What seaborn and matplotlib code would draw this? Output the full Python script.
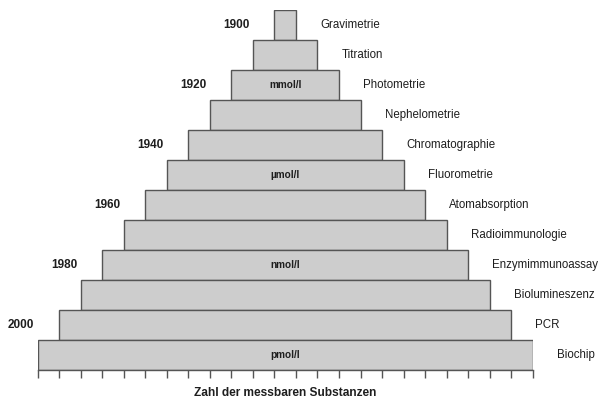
import matplotlib
matplotlib.use('Agg')
import matplotlib.pyplot as plt
import seaborn as sns
import pandas as pd

# Data
methods = ['Gravimetrie', 'Titration', 'Photometrie', 'Nephelometrie', 'Chromatographie',
           'Fluorometrie', 'Atomabsorption', 'Radioimmunologie', 'Enzymimmunoassay',
           'Biolumineszenz', 'PCR', 'Biochip']
breite = [1, 3, 5, 7, 9, 11, 13, 15, 17, 19, 21, 23]
jahre = ['1900', '1920', '1940', '1960', '1980', '2000']
jahr_zeilen = ['Gravimetrie', 'Photometrie', 'Chromatographie', 'Atomabsorption',
               'Enzymimmunoassay', 'PCR']
einheiten = ['mmol/l', 'µmol/l', 'nmol/l', 'pmol/l']
einheit_zeilen = ['Photometrie', 'Fluorometrie', 'Enzymimmunoassay', 'Biochip']

df = pd.DataFrame({'Methode': methods, 'Breite': breite})

sns.set_style('white')
plt.rcParams['font.family'] = ['Liberation Sans', 'DejaVu Sans']

fuellung = '#cdcdcd'
rand = '#555555'
textfarbe = '#1e1e1e'

fig = plt.figure(figsize=(6.07, 4.03), dpi=100)
ax = fig.add_axes([37.7 / 607, 33 / 403, 495 / 607, 360 / 403])

sns.barplot(data=df, x='Breite', y='Methode', orient='h', color=fuellung, saturation=1,
            edgecolor=rand, linewidth=1.0, width=1.0, ax=ax)

# Balken zentrieren -> Pyramide
mitte = max(breite) / 2
for p in ax.patches:
    p.set_x(mitte - p.get_width() / 2)

ax.set_xlim(0, max(breite))
ax.set_ylim(len(methods) - 0.5, -0.5)

# Beschriftungen
for i, (m, b) in enumerate(zip(methods, breite)):
    ax.text(mitte + b / 2 + 1.12, i, m, ha='left', va='center', fontsize=8.3,
            color=textfarbe, clip_on=False)
for j, zeile in zip(jahre, jahr_zeilen):
    i = methods.index(zeile)
    ax.text(mitte - breite[i] / 2 - 1.15, i, j, ha='right', va='center', fontsize=8.5,
            fontweight='bold', color=textfarbe, clip_on=False)
for e, zeile in zip(einheiten, einheit_zeilen):
    i = methods.index(zeile)
    ax.text(mitte, i, e, ha='center', va='center', fontsize=7.2, fontweight='bold',
            color=textfarbe)

# Achsen
for s in ['top', 'left', 'right']:
    ax.spines[s].set_visible(False)
ax.spines['bottom'].set_color(rand)
ax.spines['bottom'].set_linewidth(1.0)
ax.set_xticks(range(max(breite) + 1))
ax.set_xticklabels([])
ax.tick_params(axis='x', direction='out', length=5.8, width=1.0, color=rand, bottom=True)
ax.set_yticks([])
ax.set_ylabel('')
ax.set_xlabel('Zahl der messbaren Substanzen', fontsize=8.6, fontweight='bold', color=textfarbe)
ax.xaxis.set_label_coords(0.5, -0.064)
ax.xaxis.label.set_va('center')

plt.savefig('out.png', dpi=100)
